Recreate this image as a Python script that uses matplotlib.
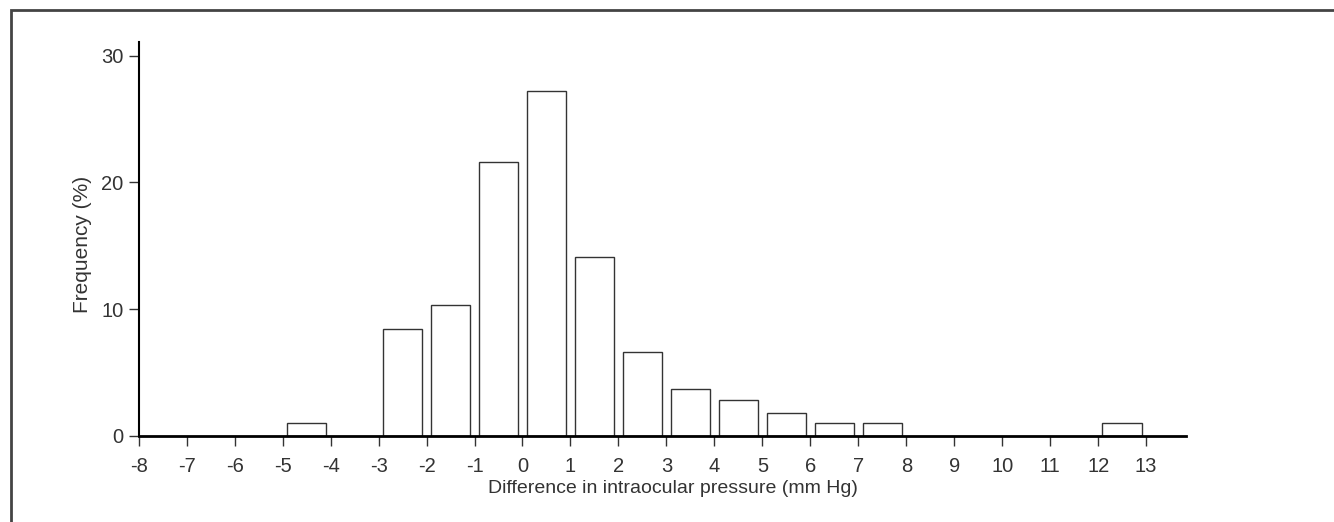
import matplotlib
matplotlib.use("Agg")
import matplotlib.pyplot as plt
from matplotlib.patches import Rectangle

plt.rcParams.update({
    "font.family": ["Liberation Sans", "DejaVu Sans"],
    "font.size": 14,
    "axes.unicode_minus": False,
})

# histogram bins (left edge of each 1 mm Hg bin) and frequency (%)
bin_left = [-5, -3, -2, -1, 0, 1, 2, 3, 4, 5, 6, 7, 12]
freq = [1.0, 8.4, 10.3, 21.6, 27.2, 14.1, 6.6, 3.7, 2.8, 1.8, 1.0, 1.0, 1.0]
xticks = list(range(-8, 14))
yticks = [0, 10, 20, 30]

fig = plt.figure(figsize=(13.34, 5.22), dpi=100)
ax = fig.add_axes([0.104, 0.165, 0.785, 0.755])

centers = [b + 0.5 for b in bin_left]
ax.bar(centers, freq, width=0.82, color="white", edgecolor="#333333", linewidth=1.0)

ax.set_xlim(-8, 13.83)
ax.set_ylim(0, 31.1)
ax.set_xticks(xticks)
ax.set_yticks(yticks)
ax.tick_params(axis="both", direction="out", length=7, width=1, color="#333333",
               labelsize=14.5, labelcolor="#333333")
ax.tick_params(axis="x", pad=8)
ax.tick_params(axis="y", pad=4)
for s in ["top", "right"]:
    ax.spines[s].set_visible(False)
ax.spines["bottom"].set_linewidth(2)
ax.spines["left"].set_linewidth(1.5)
ax.set_xlabel("Difference in intraocular pressure (mm Hg)", fontsize=14, color="#333333")
ax.set_ylabel("Frequency (%)", fontsize=15, color="#333333")
ax.xaxis.set_label_coords(0.51, -0.112)
ax.yaxis.set_label_coords(-0.045, 0.487)

# outer frame
fig.patches.append(Rectangle((0.008, -0.05), 1.1, 1.03, transform=fig.transFigure,
                             fill=False, edgecolor="#444444", linewidth=2))

fig.savefig("out.png", dpi=100, facecolor="white")
